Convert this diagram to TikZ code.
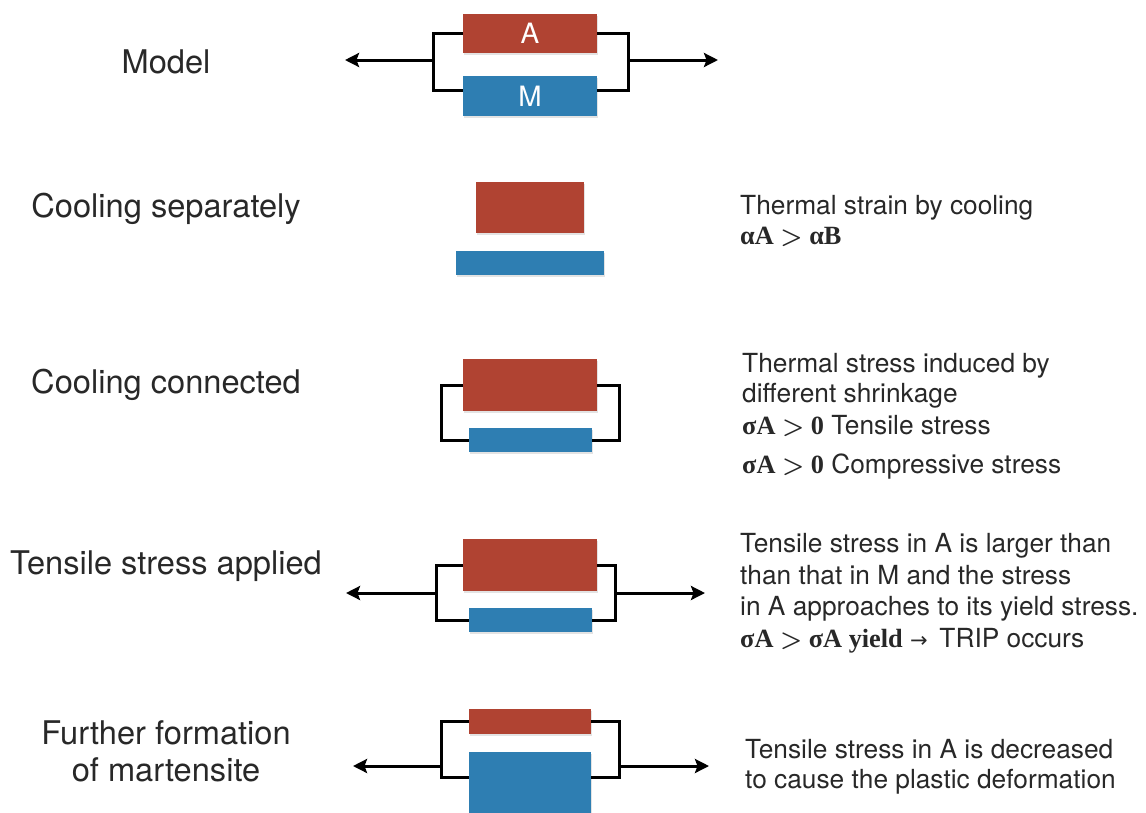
\documentclass[tikz,border=0pt]{standalone}
\usepackage{fontspec}
\setmainfont{TeX Gyre Heros}
\newfontfamily\tms{Liberation Serif}
\newfontfamily\dju{DejaVu Sans}
\usetikzlibrary{arrows.meta,shadows}
\definecolor{redA}{RGB}{176,67,50}
\definecolor{blueM}{RGB}{46,126,178}
\definecolor{txt}{RGB}{40,40,40}
\newcommand{\gtsym}{{\boldmath$>$}}
\begin{document}
\begin{tikzpicture}[x=1pt,y=-1pt,
 bar/.style={inner sep=0pt, outer sep=0pt, drop shadow={opacity=0.22,shadow xshift=0.8pt,shadow yshift=-1.6pt}},
 redbar/.style={bar, fill=redA},
 bluebar/.style={bar, fill=blueM},
 wire/.style={line width=3pt, black, line join=miter},
 pull/.style={wire, -{Stealth[length=14pt,width=14pt,inset=2.5pt]}},
 lab/.style={font=\fontsize{32.6}{37}\selectfont, text=txt, align=center, inner sep=0pt},
 note/.style={font=\fontsize{26.3}{30}\selectfont, text=txt, anchor=base west, inner sep=0pt},
 bartext/.style={text=white, font=\fontsize{28}{30}\selectfont}
]
\useasboundingbox (0,0) rectangle (1146,812);

% ---------- left labels ----------
\node[lab] (l1) at (166,62) {Model};
\node[lab] (l2) at (166,209) {Cooling separately};
\node[lab] (l3) at (166,385) {Cooling connected};
\node[lab] (l4) at (166,566) {Tensile stress applied};
\node[lab] (l5) at (166,751) {Further formation\\of martensite};

% ---------- row 1: model ----------
\node[redbar, bartext, minimum width=134pt, minimum height=39pt] (A1) at (530,33.5) {A};
\node[bluebar, bartext, minimum width=134pt, minimum height=40pt] (M1) at (530,96) {M};
\coordinate (L1) at (433,60);
\coordinate (R1) at (628,60);
\coordinate (TL1) at (345,60);
\coordinate (TR1) at (718,60);
\draw[wire] (A1.west) -| (L1) |- ([yshift=6pt]M1.west);
\draw[wire] (A1.east) -| (R1) |- ([yshift=6pt]M1.east);
\draw[pull] (L1) -- (TL1);
\draw[pull] (R1) -- (TR1);

% ---------- row 2: cooling separately ----------
\node[redbar, minimum width=108pt, minimum height=51pt] (A2) at (530,207.5) {};
\node[bluebar, minimum width=148pt, minimum height=24pt] (M2) at (530,263) {};

% ---------- row 3: cooling connected ----------
\node[redbar, minimum width=134pt, minimum height=52pt] (A3) at (530,385) {};
\node[bluebar, minimum width=123pt, minimum height=24pt] (M3) at (530.5,440) {};
\coordinate (L3) at (441,412);
\coordinate (R3) at (619,412);
\draw[wire] (A3.west) -| (L3) |- (M3.west);
\draw[wire] (A3.east) -| (R3) |- (M3.east);

% ---------- row 4: tensile stress applied ----------
\node[redbar, minimum width=134pt, minimum height=52pt] (A4) at (530,565) {};
\node[bluebar, minimum width=123pt, minimum height=24pt] (M4) at (530.5,620) {};
\coordinate (L4) at (436,593);
\coordinate (R4) at (615,593);
\coordinate (TL4) at (346,593);
\coordinate (TR4) at (705,593);
\draw[wire] (A4.west) -| (L4) |- (M4.west);
\draw[wire] (A4.east) -| (R4) |- (M4.east);
\draw[pull] (L4) -- (TL4);
\draw[pull] (R4) -- (TR4);

% ---------- row 5: further formation ----------
\node[redbar, minimum width=122pt, minimum height=25pt] (A5) at (530,721.5) {};
\node[bluebar, minimum width=122pt, minimum height=80pt] (M5) at (530,792) {};
\coordinate (L5) at (441,766);
\coordinate (R5) at (619,766);
\coordinate (ML5) at (469,777);
\coordinate (MR5) at (591,777);
\coordinate (TL5) at (353,766);
\coordinate (TR5) at (709,766);
\draw[wire] (A5.west) -| (L5) |- (ML5);
\draw[wire] (A5.east) -| (R5) |- (MR5);
\draw[pull] (L5) -- (TL5);
\draw[pull] (R5) -- (TR5);

% ---------- right notes ----------
\node[note] (n2a) at (740,214) {Thermal strain by cooling};
\node[note] (n2b) at (740,244) {{\tms\bfseries αA \gtsym{} αB}};

\node[note] (n3a) at (742,372) {Thermal stress induced by};
\node[note] (n3b) at (742,402) {different shrinkage};
\node[note] (n3c) at (742,434) {{\tms\bfseries σA \gtsym{} 0} Tensile stress};
\node[note] (n3d) at (742,473) {{\tms\bfseries σA \gtsym{} 0} Compressive stress};

\node[note] (n4a) at (740,552) {Tensile stress in A is larger than};
\node[note] (n4b) at (740,584) {than that in M and the stress};
\node[note] (n4c) at (740,615) {in A approaches to its yield stress.};
\node[note] (n4d) at (740,647) {{\tms\bfseries σA \gtsym{} σA yield} {\dju\fontsize{21}{22}\selectfont →}\, TRIP occurs};

\node[note] (n5a) at (745,758) {Tensile stress in A is decreased};
\node[note] (n5b) at (745,788) {to cause the plastic deformation};
\end{tikzpicture}
\end{document}
